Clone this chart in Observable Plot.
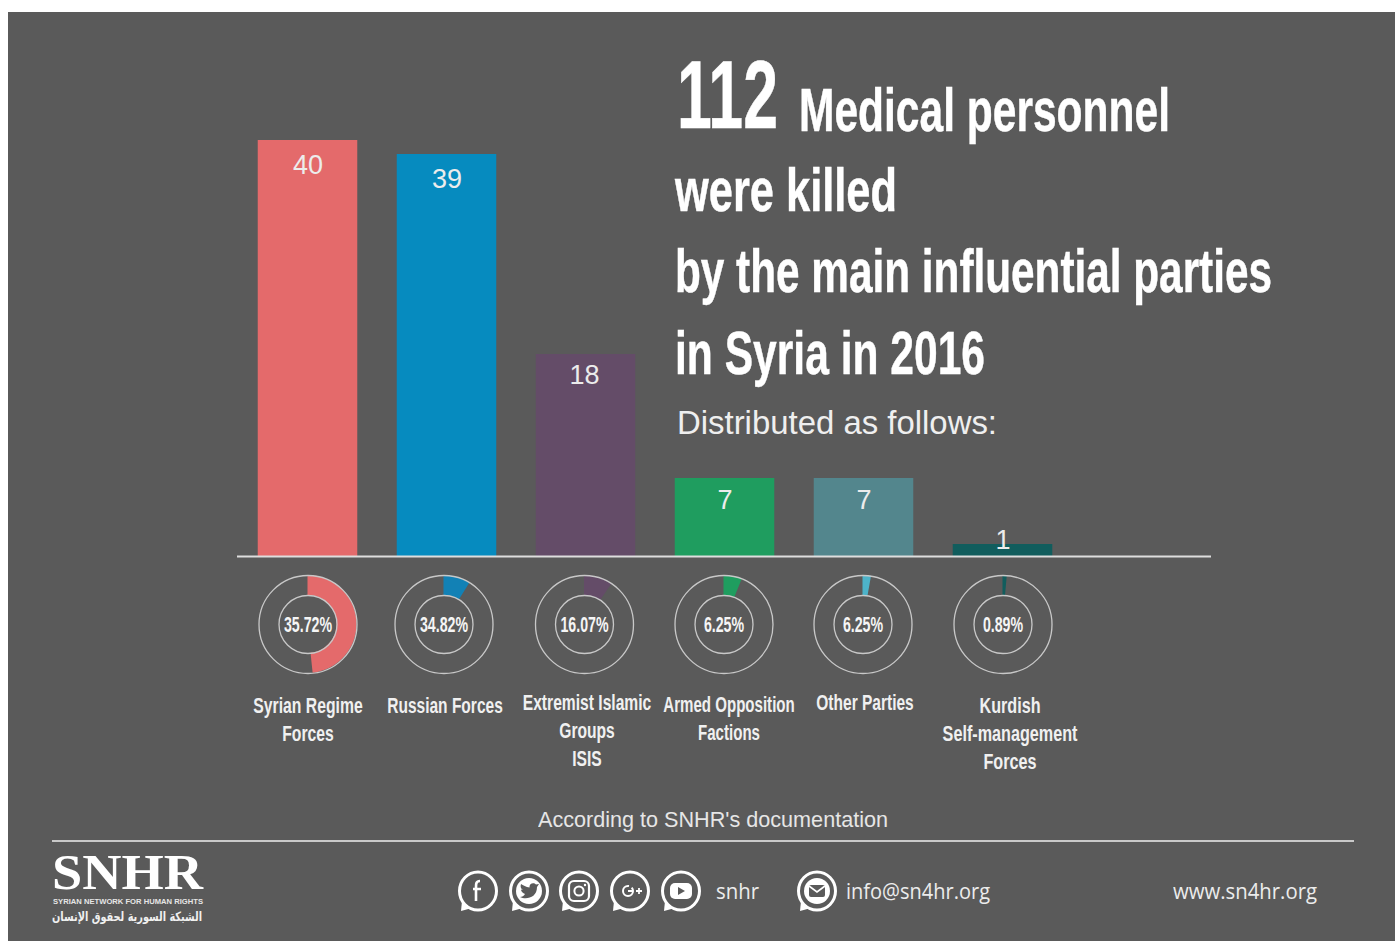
<!DOCTYPE html>
<html><head><meta charset="utf-8">
<script src="https://cdn.jsdelivr.net/npm/d3@7"></script>
<script src="https://cdn.jsdelivr.net/npm/@observablehq/plot@0.6"></script>
<style>
html,body{margin:0;padding:0;background:#fff;width:1395px;height:941px;overflow:hidden}
#panel{position:absolute;left:8px;top:12px;right:0;bottom:0;background:#5a5a5a}
#chart{position:absolute;left:0;top:0}
.t{position:absolute;white-space:nowrap;color:#fff;transform-origin:0 0;line-height:1}
.r{position:absolute;height:2px;background:#c9c9c9}
#icons{position:absolute;left:0;top:0}
</style></head><body>
<div id="panel"></div><div id="chart"></div>
<script>
const categories=["Syrian Regime Forces","Russian Forces","Extremist Islamic Groups ISIS","Armed Opposition Factions","Other Parties","Kurdish Self-management Forces"];
const labelLines=["Syrian Regime\nForces","Russian Forces","Extremist Islamic\nGroups\nISIS","Armed Opposition\nFactions","Other Parties","Kurdish\nSelf-management\nForces"];
const victims=[40,39,18,7,7,1];
const shares=["35.72%","34.82%","16.07%","6.25%","6.25%","0.89%"];
const sweepDegrees=[174,32,34,22,10,5];
const barColors=["#e46a6b","#068bbf","#644c68","#1f9d5f","#53868d","#115d5d"];
const wedgeColors=["#e46a6b","#1281b5","#644c68","#1f9d5f","#4db3c9","#115d5d"];
// label placement offsets relative to each band
const valueDx=[0,0,-1.5,0,0,0];
const valueDy=[25,25,21,22,22,-4];
const ringDx=[0,-3,-1.5,-1,-1,0];
const labelDx=[0,-2,1,4,1,7];
const labelDy=[137,137,134,136,134,137];
const labelCondense=[0.715,0.705,0.71,0.685,0.705,0.735];
const shareCondense=0.645;
const ringDy=68;

const rows=categories.map((c,i)=>({c,v:victims[i],color:barColors[i],i}));
const family="'Liberation Sans',sans-serif";

function wedges(index,{x,y}){
  const g=d3.create("svg:g");
  const arc=d3.arc().innerRadius(29).outerRadius(49).startAngle(0);
  rows.forEach((d,i)=>{
    const cx=x(d.c)+x.bandwidth()/2+ringDx[i], cy=y(0)+ringDy;
    g.append("path").attr("transform",`translate(${cx},${cy})`)
      .attr("fill",wedgeColors[i])
      .attr("d",arc({endAngle:sweepDegrees[i]*Math.PI/180}));
  });
  return g.node();
}

const plot=Plot.plot({
  width:1395,height:941,margin:0,
  style:{background:"transparent",overflow:"visible"},
  x:{type:"band",domain:categories,range:[238,1072],paddingInner:0.284,paddingOuter:0.142,round:false,axis:null},
  y:{type:"linear",domain:[0,1,7,18,39,40],range:[556,544,478,354,154,140],axis:null},
  marks:[
    Plot.barY(rows,{x:"c",y:"v",fill:"color"}),
    Plot.ruleY([0],{insetLeft:237,insetRight:184,stroke:"#dedede",strokeWidth:2}),
    wedges,
    ...rows.flatMap((d,i)=>[
      Plot.dot([d],{x:"c",y:()=>0,r:49,dx:ringDx[i],dy:ringDy,fill:"none",stroke:"#c8c8c8",strokeWidth:1.3}),
      Plot.dot([d],{x:"c",y:()=>0,r:29,dx:ringDx[i],dy:ringDy,fill:"none",stroke:"#c8c8c8",strokeWidth:1.3}),
      Plot.text([d],{x:"c",y:"v",text:"v",dx:valueDx[i],dy:valueDy[i],fill:"#ececec",fontSize:27,fontFamily:family,fontWeight:300}),
      Plot.text([d],{x:"c",y:()=>0,text:()=>shares[i],dx:ringDx[i],dy:ringDy,fill:"#f5f5f5",fontSize:22,fontWeight:700,fontFamily:family}),
      Plot.text([d],{x:"c",y:()=>0,text:()=>labelLines[i],dx:labelDx[i],dy:labelDy[i],lineAnchor:"top",lineHeight:1.27,fill:"#f0f0f0",fontSize:22,fontWeight:700,fontFamily:family})
    ])
  ]
});
document.getElementById("chart").append(plot);

// the reference's labels use a condensed face: narrow the bold texts to its proportions
plot.querySelectorAll("text").forEach(t=>{
  if(getComputedStyle(t).fontWeight!=="700")return;
  const i=labelLines.findIndex(l=>l.replace(/\n/g,"")===t.textContent);
  const k=i>=0?labelCondense[i]:shareCondense;
  const parts=t.querySelectorAll("tspan");
  (parts.length?[...parts]:[t]).forEach(p=>{
    p.setAttribute("textLength",p.getComputedTextLength()*k);
    p.setAttribute("lengthAdjust","spacingAndGlyphs");
  });
});

function place(text,left,baseline,size,opts={}){
  const e=document.createElement("div");e.className="t";e.textContent=text;
  e.style.fontSize=size+"px";e.style.fontFamily=opts.family||family;
  e.style.fontWeight=opts.weight||400;if(opts.color)e.style.color=opts.color;
  if(opts.stroke)e.style.webkitTextStroke=opts.stroke+"px #fff";
  if(opts.lh)e.style.lineHeight=opts.lh;
  document.body.append(e);
  const w=e.getBoundingClientRect().width;
  e.style.left=left+"px";e.style.top=(baseline-size*(opts.asc||0.86))+"px";
  if(opts.width)e.style.transform=`scaleX(${opts.width/w})`;
  return e;
}
const nb={weight:700,stroke:0.5};
place("112",677,130,96,{...nb,width:101});
place("Medical personnel",799,132,62,{...nb,width:371});
place("were killed",675,212,62,{...nb,width:222});
place("by the main influential parties",675,293,62,{...nb,width:597});
place("in Syria in 2016",675,375,62,{...nb,width:310});
place("Distributed as follows:",677,434,33,{width:320,color:"#efefef"});
place("According to SNHR's documentation",538,828,22,{width:350,color:"#e6e6e6"});
const rule=document.createElement("div");rule.className="r";rule.style.cssText+="left:52px;top:840px;width:1302px";document.body.append(rule);

place("SNHR",52,890,50,{family:"'Liberation Serif',serif",weight:700,width:151,lh:0.7,asc:0.7});
place("SYRIAN NETWORK FOR HUMAN RIGHTS",53,905,8,{weight:700,width:150,color:"#e6e6e6"});
place("الشبكة السورية لحقوق الإنسان",52,920,13,{family:"'DejaVu Sans',sans-serif",weight:700,width:150,color:"#f0f0f0",lh:0.9,asc:0.72});
const os="'Open Sans',sans-serif";
place("snhr",716,898,22,{family:os,width:43,color:"#ececec"});
place("info@sn4hr.org",846,898,22,{family:os,width:144,color:"#ececec"});
place("www.sn4hr.org",1173,898,22,{family:os,width:144,color:"#ececec"});

// contact icons: speech-bubble rings with simple pictograms
const icons=d3.select(document.body).append("svg").attr("id","icons").attr("width",1395).attr("height",941);
const bg="#5a5a5a";
const pictos={
  f:g=>g.append("path").attr("d","M2,-10 C-2,-10 -2,-7 -2,-4 L-2,10 M-5,-2 L3,-2").attr("fill","none").attr("stroke","#fff").attr("stroke-width",2.6),
  bird:g=>{g.append("circle").attr("r",13).attr("fill","#fff");
    g.append("path").attr("d","M-9,6 C-3,9 8,7 8,-4 L10,-7 L7,-6.5 C5,-9 0,-8 0.5,-3.5 C-3,-4 -6,-6 -8,-7 C-9,-4 -8,-2 -6,-1 L-8,-1.5 C-8,1 -6,2 -4,3 C-5,5 -7,6 -9,6 Z").attr("fill",bg);},
  insta:g=>{g.append("rect").attr("x",-10).attr("y",-10).attr("width",20).attr("height",20).attr("rx",5).attr("fill","none").attr("stroke","#fff").attr("stroke-width",2.2);
    g.append("circle").attr("r",4.6).attr("fill","none").attr("stroke","#fff").attr("stroke-width",2);
    g.append("circle").attr("cx",6).attr("cy",-6).attr("r",1.2).attr("fill","#fff");},
  gplus:g=>{g.append("circle").attr("cx",-2).attr("r",5).attr("fill","none").attr("stroke","#fff").attr("stroke-width",2).attr("stroke-dasharray","24 3");
    g.append("path").attr("d","M-2,0 L3,0 M6,0 L12,0 M9,-3 L9,3").attr("stroke","#fff").attr("stroke-width",1.8);},
  play:g=>{g.append("rect").attr("x",-11).attr("y",-8).attr("width",22).attr("height",16).attr("rx",5).attr("fill","#fff");
    g.append("path").attr("d","M-3,-4 L4,0 L-3,4 Z").attr("fill",bg);},
  mail:g=>{g.append("circle").attr("r",13).attr("fill","#fff");
    g.append("rect").attr("x",-8).attr("y",-6).attr("width",16).attr("height",12).attr("rx",2).attr("fill",bg);
    g.append("path").attr("d","M-8,-5 L0,1 L8,-5").attr("fill","none").attr("stroke","#fff").attr("stroke-width",1.6);}
};
[[478,"f"],[529,"bird"],[579,"insta"],[630,"gplus"],[681,"play"],[817,"mail"]].forEach(([cx,k])=>{
  const g=icons.append("g").attr("transform",`translate(${cx},891)`);
  g.append("path").attr("d","M-16,10 L-17,20 L-6,17 Z").attr("fill","#fff");
  g.append("ellipse").attr("rx",18.5).attr("ry",19).attr("fill",bg).attr("stroke","#fff").attr("stroke-width",3);
  pictos[k](g);
});
</script></body></html>
